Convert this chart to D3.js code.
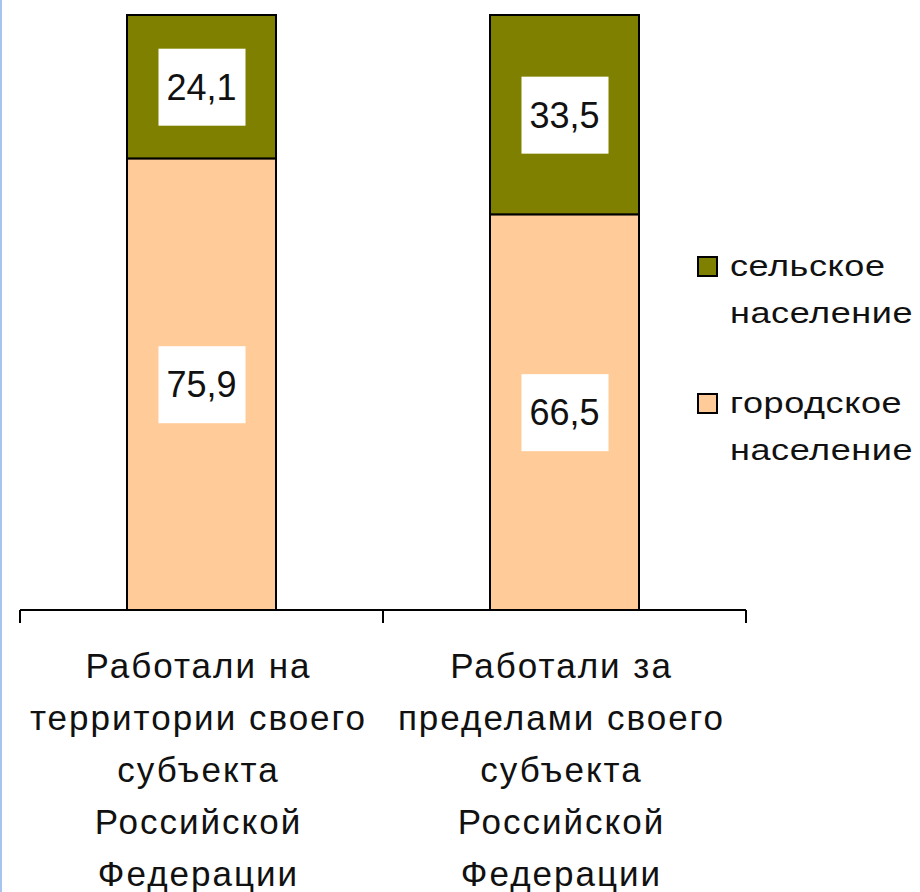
<!DOCTYPE html>
<html><head><meta charset="utf-8">
<script src="https://cdn.jsdelivr.net/npm/d3@7"></script>
<style>html,body{margin:0;padding:0;background:#fff;}svg{display:block;}</style>
</head><body>
<script>
const categories = [
  ["Работали на", "территории своего", "субъекта", "Российской", "Федерации"],
  ["Работали за", "пределами своего", "субъекта", "Российской", "Федерации"]
];
const seriesNames = ["городское население", "сельское население"];
const urban = [75.9, 66.5];
const rural = [24.1, 33.5];
const valueLabels = [["75,9", "24,1"], ["66,5", "33,5"]];
const legendLines = [["сельское", "население"], ["городское", "население"]];
const colors = ["#FFCC99", "#808000"];

const W = 920, H = 892;
const svg = d3.select("body").append("svg").attr("width", W).attr("height", H);
svg.append("rect").attr("width", W).attr("height", H).attr("fill", "#fff");
svg.append("rect").attr("x", 0).attr("y", 0).attr("width", 2).attr("height", H).attr("fill", "#a8c4ee");

const font = "'Liberation Sans', Arial, sans-serif";
const x = d3.scaleBand().domain([0, 1]).range([20, 746]).paddingInner(0).paddingOuter(0);
const y = d3.scaleLinear().domain([0, 100]).range([610, 15]);
const barW = 149;

const stackData = [0, 1].map(i => ({i, vals: [urban[i], rural[i]]}));
const stack = d3.stack().keys([0, 1]).value((d, k) => d.vals[k]);
const layers = stack(stackData);

layers.forEach((layer, k) => {
  svg.append("g").selectAll("rect").data(layer).join("rect")
    .attr("x", (d, i) => x(i) + x.bandwidth() / 2 - barW / 2)
    .attr("y", d => y(d[1]))
    .attr("width", barW)
    .attr("height", d => y(d[0]) - y(d[1]))
    .attr("fill", colors[k])
    .attr("stroke", "#000")
    .attr("stroke-width", 2);
});

// data labels
layers.forEach((layer, k) => {
  layer.forEach((d, i) => {
    const cx = x(i) + x.bandwidth() / 2;
    const cy = (y(d[0]) + y(d[1])) / 2;
    const g = svg.append("g");
    g.append("rect").attr("x", cx - 43).attr("y", cy - 38).attr("width", 87).attr("height", 77).attr("fill", "#fff");
    g.append("text").attr("x", cx).attr("y", cy + 13).attr("text-anchor", "middle")
      .attr("font-family", font).attr("font-size", 36).attr("fill", "#111")
      .text(valueLabels[i][k]);
  });
});

// axis
const axisG = svg.append("g").attr("transform", "translate(0,610)");
axisG.append("line").attr("x1", 20).attr("x2", 746).attr("y1", 0).attr("y2", 0).attr("stroke", "#000").attr("stroke-width", 2);
const tickPos = [x(0), x(1), x(1) + x.bandwidth()];
axisG.selectAll("line.tick").data(tickPos).join("line").attr("class", "tick")
  .attr("x1", d => d).attr("x2", d => d).attr("y1", 0).attr("y2", 13)
  .attr("stroke", "#000").attr("stroke-width", 2);

// category labels
categories.forEach((lines, i) => {
  const t = svg.append("text").attr("text-anchor", "middle")
    .attr("font-family", font).attr("font-size", 35).attr("letter-spacing", 2).attr("fill", "#111");
  lines.forEach((ln, j) => {
    t.append("tspan").attr("x", x(i) + x.bandwidth() / 2 - 3).attr("y", 678 + j * 52).text(ln);
  });
});

// legend
const legY = [257, 394];
legendLines.forEach((lines, k) => {
  const col = colors[1 - k];
  svg.append("rect").attr("x", 698).attr("y", legY[k]).attr("width", 19).attr("height", 19)
    .attr("fill", col).attr("stroke", "#000").attr("stroke-width", 2);
  lines.forEach((ln, j) => {
    svg.append("text").attr("font-family", font).attr("font-size", 30).attr("fill", "#111")
      .attr("transform", `translate(730,${legY[k] + 19 + j * 47}) scale(1.2,1)`)
      .attr("letter-spacing", 0.5)
      .text(ln);
  });
});
</script>
</body></html>
